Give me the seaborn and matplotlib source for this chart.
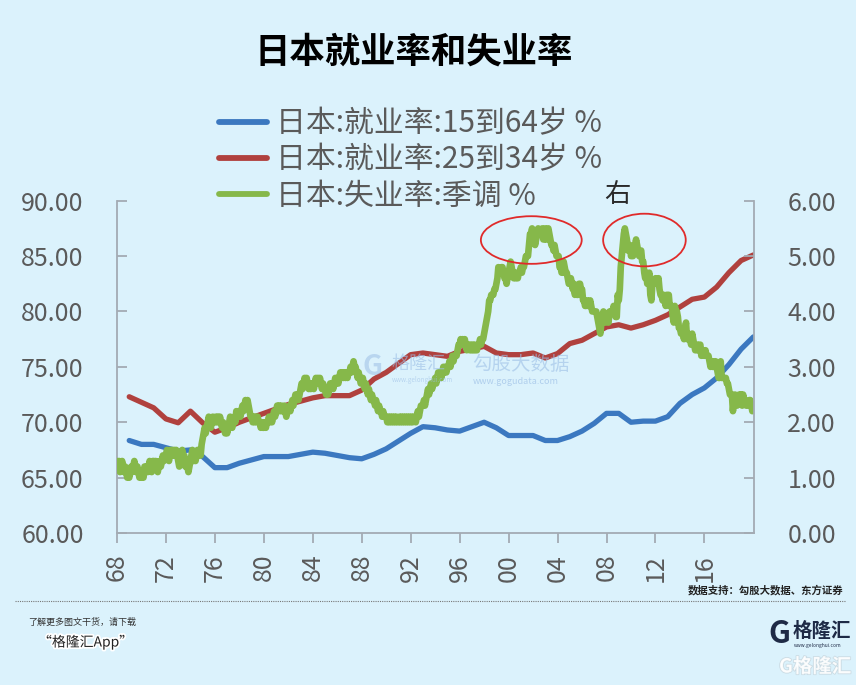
import numpy as np
import pandas as pd
import matplotlib
matplotlib.use("Agg")
import matplotlib.pyplot as plt
import matplotlib.dates as mdates
import matplotlib.patheffects as pe
from matplotlib.patches import Ellipse
from matplotlib.lines import Line2D
import seaborn as sns

# ---------------- data ----------------
years = list(range(1968, 2020))

emp_15_64 = [68.35, 68.0, 68.0, 67.7, 67.4, 67.5, 66.9, 65.9, 65.9, 66.3,
             66.6, 66.9, 66.9, 66.9, 67.1, 67.3, 67.2, 67.0, 66.8, 66.7,
             67.1, 67.6, 68.3, 69.0, 69.6, 69.5, 69.3, 69.2, 69.6, 70.0,
             69.5, 68.8, 68.8, 68.8, 68.35, 68.35, 68.7, 69.2, 69.9, 70.8,
             70.8, 70.0, 70.1, 70.1, 70.5, 71.7, 72.5, 73.1, 74.0, 75.2,
             76.6, 77.7]

emp_25_34 = [72.3, 71.8, 71.3, 70.3, 69.95, 71.0, 69.95, 69.1, 69.5, 70.0,
             70.4, 70.8, 71.2, 71.6, 71.9, 72.2, 72.4, 72.4, 72.4, 72.9,
             73.9, 74.5, 75.3, 76.1, 76.25, 76.1, 75.95, 76.4, 76.6, 76.85,
             76.25, 76.1, 76.1, 76.25, 75.8, 76.2, 77.1, 77.4, 78.0, 78.6,
             78.8, 78.5, 78.8, 79.2, 79.7, 80.4, 81.1, 81.3, 82.2, 83.5,
             84.6, 85.1]

# monthly seasonally adjusted unemployment rate (%), Jan 1968 - Dec 2019
unemp_1968_1969 = [
    1.3, 1.2, 1.3, 1.1, 1.2, 1.3, 1.2, 1.1, 1.2, 1.1, 1.0, 1.1,
    1.0, 1.1, 1.2, 1.1, 1.2, 1.3, 1.2, 1.1, 1.2, 1.1, 1.0, 1.1]
unemp_1970s = [
    1.0, 1.1, 1.0, 1.2, 1.1, 1.2, 1.1, 1.2, 1.3, 1.2, 1.1, 1.3,
    1.3, 1.2, 1.3, 1.2, 1.1, 1.2, 1.3, 1.2, 1.3, 1.4, 1.3, 1.4,
    1.4, 1.5, 1.4, 1.3, 1.5, 1.4, 1.5, 1.4, 1.5, 1.4, 1.5, 1.4,
    1.3, 1.2, 1.3, 1.4, 1.5, 1.3, 1.4, 1.2, 1.3, 1.2, 1.1, 1.2,
    1.3, 1.4, 1.5, 1.3, 1.4, 1.3, 1.4, 1.5, 1.4, 1.5, 1.4, 1.6,
    1.7, 1.8, 1.9, 1.8, 1.9, 2.0, 2.1, 2.0, 1.9, 2.0, 2.1, 2.0,
    2.0, 2.1, 2.0, 2.1, 2.0, 2.1, 2.0, 1.9, 2.0, 1.9, 1.8, 1.9,
    1.8, 1.9, 2.0, 2.1, 2.0, 1.9, 2.0, 2.1, 2.0, 2.2, 2.1, 2.2,
    2.2, 2.1, 2.2, 2.3, 2.2, 2.3, 2.4, 2.3, 2.4, 2.3, 2.2, 2.1,
    2.1, 2.0, 2.1, 2.0, 2.1, 2.0, 2.1, 2.0, 2.0, 1.9, 2.0, 1.9]
unemp_1980s = [
    1.9, 2.0, 1.9, 2.0, 2.0, 2.1, 2.0, 2.1, 2.0, 2.1, 2.2, 2.1,
    2.2, 2.3, 2.2, 2.3, 2.2, 2.3, 2.2, 2.2, 2.3, 2.2, 2.1, 2.2,
    2.2, 2.3, 2.2, 2.3, 2.4, 2.3, 2.4, 2.5, 2.4, 2.5, 2.4, 2.5,
    2.6, 2.7, 2.6, 2.7, 2.8, 2.7, 2.8, 2.7, 2.6, 2.7, 2.6, 2.7,
    2.7, 2.6, 2.7, 2.8, 2.7, 2.8, 2.7, 2.8, 2.7, 2.6, 2.7, 2.6,
    2.6, 2.5, 2.6, 2.5, 2.6, 2.7, 2.6, 2.7, 2.6, 2.7, 2.8, 2.7,
    2.8, 2.7, 2.8, 2.9, 2.8, 2.9, 2.8, 2.9, 2.8, 2.9, 2.8, 2.9,
    2.9, 3.0, 2.9, 3.0, 3.1, 3.0, 3.0, 2.9, 2.8, 2.9, 2.8, 2.7,
    2.7, 2.8, 2.7, 2.6, 2.7, 2.6, 2.5, 2.6, 2.5, 2.4, 2.5, 2.4,
    2.4, 2.3, 2.4, 2.3, 2.2, 2.3, 2.2, 2.2, 2.1, 2.2, 2.1, 2.1]
unemp_1990s = [
    2.1, 2.0, 2.1, 2.0, 2.1, 2.0, 2.1, 2.0, 2.1, 2.0, 2.1, 2.0,
    2.0, 2.1, 2.0, 2.1, 2.0, 2.1, 2.0, 2.1, 2.0, 2.1, 2.0, 2.1,
    2.0, 2.1, 2.0, 2.1, 2.1, 2.0, 2.1, 2.2, 2.1, 2.2, 2.3, 2.3,
    2.3, 2.4, 2.3, 2.4, 2.5, 2.6, 2.5, 2.6, 2.7, 2.6, 2.7, 2.7,
    2.8, 2.7, 2.8, 2.9, 2.8, 2.9, 2.8, 2.9, 3.0, 2.9, 3.0, 2.9,
    3.0, 3.0, 3.1, 3.0, 3.1, 3.2, 3.1, 3.2, 3.2, 3.2, 3.3, 3.4,
    3.4, 3.5, 3.4, 3.5, 3.4, 3.5, 3.4, 3.3, 3.4, 3.4, 3.3, 3.4,
    3.3, 3.4, 3.3, 3.4, 3.3, 3.3, 3.4, 3.4, 3.5, 3.4, 3.5, 3.5,
    3.6, 3.7, 3.8, 3.9, 4.0, 4.2, 4.2, 4.3, 4.3, 4.3, 4.4, 4.4,
    4.5, 4.6, 4.8, 4.7, 4.7, 4.8, 4.8, 4.7, 4.6, 4.6, 4.5, 4.6]
unemp_2000s = [
    4.7, 4.8, 4.9, 4.8, 4.7, 4.6, 4.7, 4.6, 4.7, 4.6, 4.7, 4.7,
    4.8, 4.7, 4.8, 4.8, 4.9, 5.0, 5.0, 5.0, 5.2, 5.4, 5.4, 5.5,
    5.3, 5.3, 5.2, 5.3, 5.4, 5.5, 5.4, 5.4, 5.4, 5.5, 5.3, 5.3,
    5.5, 5.3, 5.4, 5.5, 5.4, 5.3, 5.2, 5.2, 5.1, 5.2, 5.1, 5.0,
    5.0, 5.0, 4.8, 4.8, 4.7, 4.7, 4.9, 4.8, 4.7, 4.7, 4.6, 4.5,
    4.5, 4.6, 4.5, 4.4, 4.5, 4.3, 4.4, 4.3, 4.3, 4.5, 4.5, 4.4,
    4.4, 4.2, 4.2, 4.1, 4.1, 4.2, 4.1, 4.1, 4.2, 4.1, 4.0, 4.0,
    4.0, 4.0, 4.0, 3.9, 3.8, 3.7, 3.6, 3.8, 3.9, 4.0, 3.8, 3.8,
    3.9, 3.9, 3.8, 4.0, 4.0, 4.0, 4.0, 4.1, 4.0, 3.9, 3.9, 4.3,
    4.2, 4.4, 4.8, 5.0, 5.2, 5.4, 5.5, 5.4, 5.3, 5.1, 5.2, 5.2]
unemp_2010s = [
    5.0, 5.0, 5.0, 5.1, 5.2, 5.3, 5.2, 5.1, 5.0, 5.1, 5.1, 4.9,
    4.9, 4.7, 4.6, 4.7, 4.5, 4.6, 4.7, 4.3, 4.2, 4.5, 4.5, 4.5,
    4.6, 4.5, 4.5, 4.6, 4.4, 4.3, 4.3, 4.2, 4.3, 4.2, 4.1, 4.3,
    4.3, 4.3, 4.1, 4.1, 4.1, 3.9, 3.8, 4.1, 4.0, 4.0, 3.9, 3.7,
    3.7, 3.6, 3.6, 3.6, 3.5, 3.7, 3.8, 3.5, 3.6, 3.5, 3.5, 3.4,
    3.6, 3.5, 3.4, 3.3, 3.3, 3.4, 3.3, 3.4, 3.4, 3.2, 3.3, 3.3,
    3.2, 3.3, 3.2, 3.2, 3.2, 3.1, 3.0, 3.1, 3.0, 3.0, 3.1, 3.1,
    3.0, 2.9, 2.8, 2.8, 3.1, 2.8, 2.8, 2.8, 2.8, 2.8, 2.7, 2.7,
    2.6, 2.5, 2.5, 2.5, 2.2, 2.4, 2.5, 2.4, 2.3, 2.4, 2.5, 2.4,
    2.5, 2.3, 2.5, 2.4, 2.4, 2.3, 2.3, 2.3, 2.4, 2.4, 2.3, 2.2]

x_tick_years = list(range(1968, 2020, 4))
x_tick_labels = ['68', '72', '76', '80', '84', '88', '92', '96',
                 '00', '04', '08', '12', '16']
left_ticks = [60, 65, 70, 75, 80, 85, 90]
right_ticks = [0, 1, 2, 3, 4, 5, 6]

title = "日本就业率和失业率"
series_labels = ["日本:就业率:15到64岁 %",
                 "日本:就业率:25到34岁 %",
                 "日本:失业率:季调 %"]

# ---------------- style ----------------
sns.set_style("white")
plt.rcParams['font.family'] = ['Noto Sans CJK SC', 'DejaVu Sans']

BG = '#DBF2FC'
BLUE = '#3B78C0'
RED = '#B0413E'
GREEN = '#86B84A'
SPINE = '#A3ABB3'
TXT = '#5A5A5A'

W, H = 856, 685
fig = plt.figure(figsize=(W / 100, H / 100), dpi=100, facecolor=BG)
ax = fig.add_axes([117 / W, (H - 533) / H, (754 - 117) / W, (533 - 200.7) / H])
ax.set_facecolor(BG)
ax2 = ax.twinx()

unemp = unemp_1968_1969 + unemp_1970s + unemp_1980s + unemp_1990s + unemp_2000s + unemp_2010s
annual_dates = pd.to_datetime([f"{y}-12-31" for y in years])
monthly_dates = pd.date_range("1968-01-01", periods=len(unemp), freq="MS")

df_emp = pd.DataFrame({'date': annual_dates, 'e1': emp_15_64, 'e2': emp_25_34})
df_u = pd.DataFrame({'date': monthly_dates, 'u': unemp})

sns.lineplot(data=df_emp, x='date', y='e1', ax=ax, color=BLUE, lw=3.8)
sns.lineplot(data=df_emp, x='date', y='e2', ax=ax, color=RED, lw=3.8)
sns.lineplot(data=df_u, x='date', y='u', ax=ax2, color=GREEN, lw=4.8)

for a in (ax, ax2):
    a.set_xlabel('')
    a.set_ylabel('')
    a.grid(False)

ax.set_xlim(pd.Timestamp('1968-01-01'), pd.Timestamp('2020-01-20'))
ax.set_ylim(60, 90)
ax2.set_ylim(0, 6)
ax.set_xticks([pd.Timestamp(f"{y}-01-01") for y in x_tick_years])
ax.set_xticklabels(x_tick_labels, rotation=90)
ax.set_yticks(left_ticks)
ax.set_yticklabels([f"{v:.2f}" for v in left_ticks])
ax2.set_yticks(right_ticks)
ax2.set_yticklabels([f"{v:.2f}" for v in right_ticks])

for s in ['top', 'right']:
    ax.spines[s].set_visible(False)
for s in ['top', 'left', 'bottom']:
    ax2.spines[s].set_visible(False)
for s in ['left', 'bottom']:
    ax.spines[s].set_color(SPINE)
    ax.spines[s].set_linewidth(1.3)
ax2.spines['right'].set_color(SPINE)
ax2.spines['right'].set_linewidth(1.3)

ax.tick_params(axis='y', direction='in', length=7, width=1.3, color=SPINE,
               labelsize=18, labelcolor=TXT, pad=24, left=True)
ax2.tick_params(axis='y', direction='in', length=7, width=1.3, color=SPINE,
                labelsize=18, labelcolor=TXT, pad=24, right=True)
ax.tick_params(axis='x', direction='out', length=7, width=1.3, color=SPINE,
               labelsize=18, labelcolor=TXT, pad=8, bottom=True)

# highlight ellipses (annotations)
c1 = mdates.date2num(pd.Timestamp('2001-11-08'))
c2 = mdates.date2num(pd.Timestamp('2011-02-06'))
for cx, wd, ht in [(c1, 8.24 * 365.25, 4.3), (c2, 6.75 * 365.25, 4.75)]:
    e = Ellipse((cx, 86.45), wd, ht, transform=ax.transData, fill=False,
                edgecolor='#E02A2A', lw=1.3, clip_on=False, zorder=10)
    ax2.add_patch(e)

# legend
handles = [Line2D([], [], color=c, lw=4.2) for c in (BLUE, RED, GREEN)]
fig.legend(handles, series_labels, loc='upper left',
           bbox_to_anchor=(219 / W, 1 - 108 / H), frameon=False, fontsize=21.5,
           handlelength=1.62, handletextpad=0.28, labelspacing=0.18,
           borderpad=0, borderaxespad=0, labelcolor=TXT)
fig.text(617 / W, 1 - 195 / H, '右', ha='center', va='center', fontsize=19,
         color='#2A2A2A')

# title
fig.text(414 / W, 1 - 52 / H, title, ha='center', va='center', fontsize=25.5,
         fontweight='bold', color='black')

# watermarks
WM = '#9DBFE6'
fig.text(372 / W, 1 - 367 / H, 'G', ha='center', va='center', fontsize=20,
         fontweight='bold', color=WM, alpha=0.55)
fig.text(392 / W, 1 - 364 / H, '格隆汇', ha='left', va='center', fontsize=13,
         color=WM, alpha=0.6)
fig.text(392 / W, 1 - 380 / H, 'www.gelonghui.com', ha='left', va='center',
         fontsize=4.5, color=WM, alpha=0.6)
fig.text(472 / W, 1 - 364 / H, '勾股大数据', ha='left', va='center', fontsize=14,
         color=WM, alpha=0.6)
fig.text(473 / W, 1 - 381 / H, 'www.gogudata.com', ha='left', va='center',
         fontsize=6.5, color=WM, alpha=0.7)

# footer
fig.text(843 / W, 1 - 590 / H, '数据支持：勾股大数据、东方证券', ha='right',
         va='center', fontsize=7.5, fontweight='bold', color='#222222')
fig.add_artist(Line2D([15 / W, 845 / W], [1 - 601 / H] * 2,
                      transform=fig.transFigure, ls=(0, (1, 1)),
                      color='#777777', lw=0.8))
fig.text(28 / W, 1 - 622 / H, '了解更多图文干货，请下载', ha='left', va='center',
         fontsize=6.5, color='#333333')
t = fig.text(38 / W, 1 - 642 / H, '“格隆汇App”', ha='left', va='center',
             fontsize=10, color='#222222')
t.set_path_effects([pe.withStroke(linewidth=2.5, foreground='white')])
fig.text(779 / W, 1 - 634 / H, 'G', ha='center', va='center', fontsize=22,
         fontweight='bold', color='#1E2A46')
fig.text(793 / W, 1 - 631 / H, '格隆汇', ha='left', va='center', fontsize=14,
         fontweight='bold', color='#1E2A46')
fig.text(794 / W, 1 - 645 / H, 'www.gelonghui.com', ha='left', va='center',
         fontsize=3.5, color='#1E2A46')
t2 = fig.text(779 / W, 1 - 667 / H, 'G格隆汇', ha='left', va='center',
              fontsize=14, fontweight='bold', color='white', alpha=0.85)
t2.set_path_effects([pe.withStroke(linewidth=1.2, foreground='#C8D8E0')])

fig.savefig('out.png', dpi=100, facecolor=BG)
